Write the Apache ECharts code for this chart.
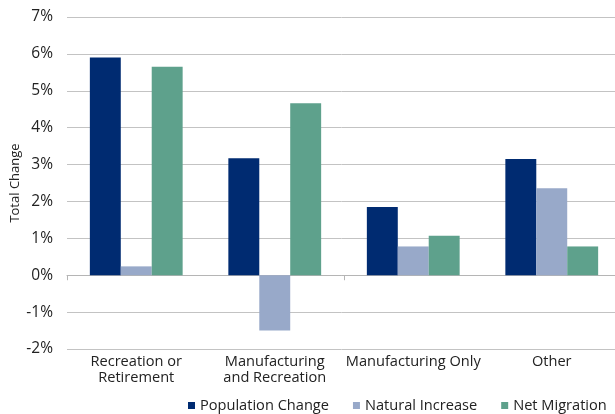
<!DOCTYPE html>
<html><head><meta charset="utf-8">
<script src="https://cdn.jsdelivr.net/npm/echarts@6/dist/echarts.min.js"></script>
<style>html,body{margin:0;padding:0;background:#fff}#c{width:615px;height:414px}</style>
</head><body><div id="c"></div>
<script>
const categories = ['Recreation or\nRetirement', 'Manufacturing\nand Recreation', 'Manufacturing Only', 'Other'];
const populationChange = [5.9, 3.17, 1.85, 3.15];
const naturalIncrease = [0.24, -1.5, 0.78, 2.36];
const netMigration = [5.65, 4.66, 1.07, 0.78];
const yTicks = [-2, -1, 0, 1, 2, 3, 4, 5, 6, 7];

const FONT = 'Open Sans';
const FS = 14.6;
const chart = echarts.init(document.getElementById('c'), null, {renderer: 'canvas'});
const mk = (name, data, color) => ({
  name, type: 'bar', data, barGap: '0%', barCategoryGap: '33%', xAxisIndex: 0,
  itemStyle: {color}, animation: false
});
chart.setOption({
  animation: false,
  textStyle: {fontFamily: FONT},
  grid: {left: 67, top: 17, width: 554, height: 332, containLabel: false, outerBoundsMode: 'none'},
  legend: {
    bottom: -4, left: 183, icon: 'rect', itemWidth: 7, itemHeight: 7, itemGap: 24,
    textStyle: {fontFamily: FONT, fontSize: FS, color: '#222'},
    data: ['Population Change', 'Natural Increase', 'Net Migration']
  },
  xAxis: [{
    type: 'category', data: categories,
    axisLine: {onZero: true, lineStyle: {color: '#b5b5b5'}},
    axisTick: {show: true, length: 5, lineStyle: {color: '#b5b5b5'}},
    axisLabel: {show: false},
    position: 'bottom'
  }, {
    type: 'category', data: categories, position: 'bottom', offset: 0,
    axisLine: {show: false, onZero: false},
    axisTick: {show: false},
    splitLine: {show: false},
    axisLabel: {interval: 0, margin: 5, fontFamily: FONT, fontSize: FS, color: '#222', lineHeight: 16}
  }],
  yAxis: {
    type: 'value', min: yTicks[0], max: yTicks[yTicks.length - 1], interval: 1,
    name: 'Total Change', nameLocation: 'middle', nameGap: 52, nameRotate: 90,
    nameMoveOverlap: false,
    nameTextStyle: {fontFamily: FONT, fontSize: 13, color: '#222', verticalAlign: 'middle'},
    axisLine: {show: false},
    axisTick: {show: false},
    axisLabel: {formatter: v => v + '%', fontFamily: FONT, fontSize: 15.5, color: '#222', margin: 14},
    splitLine: {lineStyle: {color: '#c3c3c3', width: 1}}
  },
  series: [
    mk('Population Change', populationChange, '#002b71'),
    mk('Natural Increase', naturalIncrease, '#98a9c9'),
    mk('Net Migration', netMigration, '#5ea18c')
  ]
});
</script>
</body></html>
